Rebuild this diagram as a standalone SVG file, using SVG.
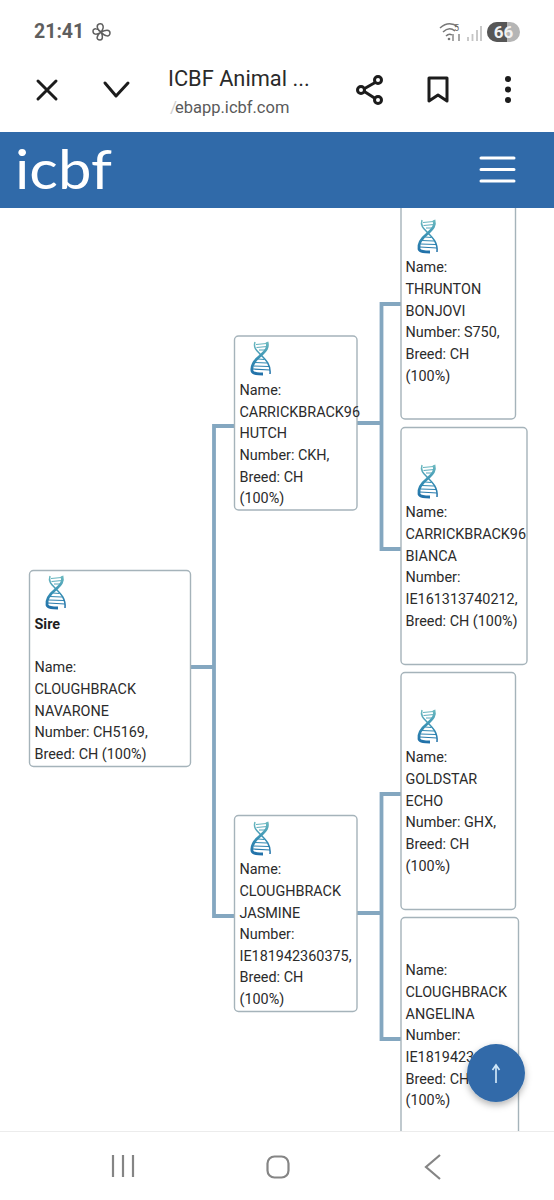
<svg xmlns="http://www.w3.org/2000/svg" width="554" height="1200" viewBox="0 0 554 1200">
<style>
.t{font-family:Roboto,"Liberation Sans",sans-serif;font-size:14.400px;fill:#2b2b2b}
.b{font-weight:700;fill:#1f1f1f}
.box{fill:#fff;stroke:#a5b3ba;stroke-width:1.4}
.c{fill:none;stroke:#84a7c0;stroke-width:3.8}
.ic{fill:none;stroke:#1c1c1c;stroke-width:3;stroke-linecap:round;stroke-linejoin:round}
.nav{fill:none;stroke:#858585;stroke-width:2.2}
</style>
<defs>
<linearGradient id="g" gradientUnits="userSpaceOnUse" x1="0" y1="0" x2="0" y2="35"><stop offset="0" stop-color="#6fbcc0"/><stop offset="0.5" stop-color="#3790b4"/><stop offset="1" stop-color="#1f6ea8"/></linearGradient>
<filter id="sh" x="-30%" y="-30%" width="160%" height="170%"><feDropShadow dx="0" dy="3" stdDeviation="3.5" flood-color="#000" flood-opacity="0.3"/></filter>
<symbol id="dna" viewBox="0 0 22 35" overflow="visible">
<path d="M5 1C3 7 7 10 11 14C16 19 21 24 20 33" fill="none" stroke="url(#g)" stroke-width="1.500"/>
<path d="M17 1C19 8 14 11 10 15C5 19 1 24 2 30C3 33 8 33 13 33" fill="none" stroke="url(#g)" stroke-width="2.800"/>
<path d="M6 3.500L16.500 2.500M6.500 6.500L17 5.500M9 9L15 9M8 18L14.500 18.500M5 21.500L17 22M3.500 25L19 25.500M3 28L20 29" fill="none" stroke="url(#g)" stroke-width="1.200"/>
</symbol>
</defs>
<rect width="554" height="1200" fill="#fff"/>

<g id="connectors">
<path class="c" d="M190 667H214M235 426H214V916H235"/>
<path class="c" d="M357 423H381.500M401 304H381.500V549H401"/>
<path class="c" d="M357 913H381.500M401 794H381.500V1039H401"/>
</g>

<g id="node-sire">
<rect class="box" x="29.500" y="570.500" width="161" height="196" rx="4"/>
<use href="#dna" x="45" y="575" width="22" height="35"/>
<text class="t b" x="34.500" y="629">Sire</text>
<text class="t" x="34.500" y="672">Name:</text>
<text class="t" x="34.500" y="694">CLOUGHBRACK</text>
<text class="t" x="34.500" y="716">NAVARONE</text>
<text class="t" x="34.500" y="737">Number: CH5169,</text>
<text class="t" x="34.500" y="759">Breed: CH (100%)</text>
</g>
<g id="node-hutch">
<rect class="box" x="234.500" y="336" width="122.500" height="174" rx="4"/>
<use href="#dna" x="250" y="341" width="22" height="35"/>
<text class="t" x="239.500" y="395">Name:</text>
<text class="t" x="239.500" y="417">CARRICKBRACK96</text>
<text class="t" x="239.500" y="438">HUTCH</text>
<text class="t" x="239.500" y="460">Number: CKH,</text>
<text class="t" x="239.500" y="482">Breed: CH</text>
<text class="t" x="239.500" y="503">(100%)</text>
</g>
<g id="node-jasmine">
<rect class="box" x="234.500" y="815.500" width="122.500" height="196" rx="4"/>
<use href="#dna" x="250" y="821" width="22" height="35"/>
<text class="t" x="239.500" y="874">Name:</text>
<text class="t" x="239.500" y="896">CLOUGHBRACK</text>
<text class="t" x="239.500" y="918">JASMINE</text>
<text class="t" x="239.500" y="939">Number:</text>
<text class="t" x="239.500" y="961">IE181942360375,</text>
<text class="t" x="239.500" y="982">Breed: CH</text>
<text class="t" x="239.500" y="1004">(100%)</text>
</g>
<g id="node-thrunton">
<rect class="box" x="401" y="190" width="114.500" height="229" rx="4"/>
<use href="#dna" x="417" y="219" width="22" height="35"/>
<text class="t" x="405.500" y="272">Name:</text>
<text class="t" x="405.500" y="294">THRUNTON</text>
<text class="t" x="405.500" y="316">BONJOVI</text>
<text class="t" x="405.500" y="337">Number: S750,</text>
<text class="t" x="405.500" y="359">Breed: CH</text>
<text class="t" x="405.500" y="381">(100%)</text>
</g>
<g id="node-bianca">
<rect class="box" x="401" y="427.500" width="126" height="237" rx="4"/>
<use href="#dna" x="417" y="464" width="22" height="35"/>
<text class="t" x="405.500" y="517">Name:</text>
<text class="t" x="405.500" y="539">CARRICKBRACK96</text>
<text class="t" x="405.500" y="561">BIANCA</text>
<text class="t" x="405.500" y="582">Number:</text>
<text class="t" x="405.500" y="604">IE161313740212,</text>
<text class="t" x="405.500" y="626">Breed: CH (100%)</text>
</g>
<g id="node-echo">
<rect class="box" x="401" y="672.500" width="114.500" height="237" rx="4"/>
<use href="#dna" x="417" y="709" width="22" height="35"/>
<text class="t" x="405.500" y="762">Name:</text>
<text class="t" x="405.500" y="784">GOLDSTAR</text>
<text class="t" x="405.500" y="806">ECHO</text>
<text class="t" x="405.500" y="827">Number: GHX,</text>
<text class="t" x="405.500" y="849">Breed: CH</text>
<text class="t" x="405.500" y="871">(100%)</text>
</g>
<g id="node-angelina">
<rect class="box" x="401" y="917.500" width="117.500" height="240" rx="4"/>
<text class="t" x="405.500" y="975">Name:</text>
<text class="t" x="405.500" y="997">CLOUGHBRACK</text>
<text class="t" x="405.500" y="1019">ANGELINA</text>
<text class="t" x="405.500" y="1040">Number:</text>
<text class="t" x="405.500" y="1062">IE1819423</text>
<text class="t" x="405.500" y="1084">Breed: CH</text>
<text class="t" x="405.500" y="1105">(100%)</text>
</g>

<g id="app-bar">
<rect x="0" y="0" width="554" height="132" fill="#fff"/>
<rect x="0" y="132" width="554" height="76" fill="#306aa9"/>
<text x="15" y="189" font-family="Lato,'Liberation Sans',sans-serif" font-size="54" fill="#fff" textLength="97" lengthAdjust="spacingAndGlyphs">icbf</text>
<path d="M481 158H514M481 169.500H514M481 181H514" fill="none" stroke="#fff" stroke-width="3" stroke-linecap="round"/>
</g>

<g id="status-bar">
<text x="34" y="38" font-family="Roboto,'Liberation Sans',sans-serif" font-size="19.500" font-weight="700" fill="#5e5e5e">21:41</text>
<g fill="none" stroke="#5e5e5e" stroke-width="1.500">
<path d="M101 32C97 30 96 25 99 24C103 23 105 27 101 32C105 30 110 29 110 33C110 37 105 37 101 32C103 36 103 40 100 40C96 40 96 36 101 32C97 35 93 35 93 31C93 28 98 28 101 32Z"/>
</g>
<path d="M440 28Q449 20 458 27M443 32Q449 26 455 31M446 36Q449 33 452 35" fill="none" stroke="#777" stroke-width="1.500"/>
<circle cx="449" cy="39" r="1.300" fill="#777"/>
<text x="454" y="31" font-family="Roboto,'Liberation Sans',sans-serif" font-size="9" fill="#666">5</text>
<path d="M453 34V41M459 34V41" stroke="#777" stroke-width="1.300"/>
<path d="M468 37V41M472.500 34V41M477 30V41M481 26V41" stroke="#c4c4c4" stroke-width="1.800"/>
<rect x="487" y="22" width="33" height="20" rx="10" fill="#b5b5b5"/>
<path d="M497 22H507V42H497A10 10 0 0 1 497 22Z" fill="#565656"/>
<text x="503.500" y="38" text-anchor="middle" font-family="Roboto,'Liberation Sans',sans-serif" font-size="17" font-weight="700" fill="#f2f2f2">66</text>
</g>

<g id="browser-bar">
<path class="ic" d="M38 81L56 99M56 81L38 99"/>
<path class="ic" d="M105 83L116 96L128 83"/>
<text x="168" y="86" font-family="Roboto,'Liberation Sans',sans-serif" font-size="21.800" fill="#2a2a2a">ICBF Animal ...</text>
<text x="170" y="113" font-family="Roboto,'Liberation Sans',sans-serif" font-size="17" fill="#cfcfcf">/</text>
<text x="175" y="113" font-family="Roboto,'Liberation Sans',sans-serif" font-size="16.500" fill="#5a5a5a">ebapp.icbf.com</text>
<path class="ic" d="M376 82L362 90L376 99"/>
<g fill="#fff" stroke="#1c1c1c" stroke-width="3"><circle cx="378" cy="80" r="3.500"/><circle cx="361" cy="90" r="3.500"/><circle cx="378" cy="100" r="3.500"/></g>
<path class="ic" d="M429 78H447V101L438 95L429 101Z"/>
<g fill="#1c1c1c"><circle cx="508" cy="79" r="3"/><circle cx="508" cy="89.500" r="3"/><circle cx="508" cy="100" r="3"/></g>
</g>

<g id="bottom-nav">
<rect x="0" y="1131" width="554" height="69" fill="#fff"/>
<path d="M0 1131.500H554" stroke="#ececec" stroke-width="1"/>
<path class="nav" d="M113 1155V1177M123 1155V1177M133 1155V1177"/>
<rect class="nav" x="267.500" y="1156.500" width="21" height="21" rx="7"/>
<path class="nav" d="M440 1155L426 1167L440 1179"/>
</g>

<g id="scroll-top">
<circle cx="496" cy="1073" r="29" fill="#306aa9" filter="url(#sh)"/>
<path d="M496 1083V1066M492.500 1070L496 1065L499.500 1070" fill="none" stroke="#cfe6f7" stroke-width="1.700"/>
</g>
</svg>
